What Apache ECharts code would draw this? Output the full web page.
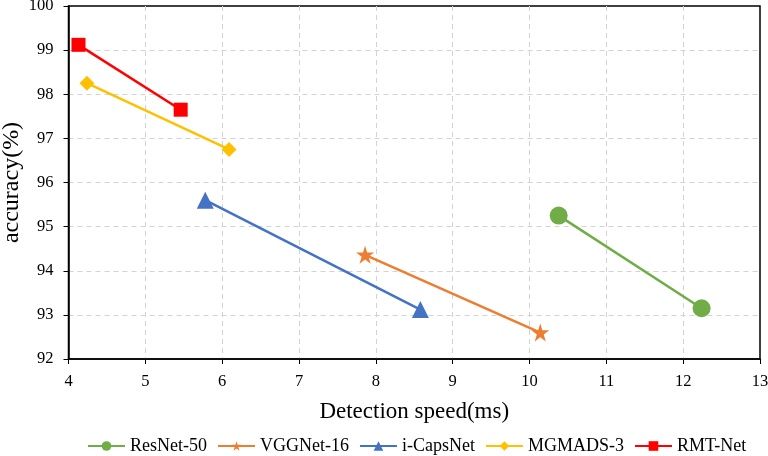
<!DOCTYPE html>
<html><head><meta charset="utf-8">
<script src="https://cdn.jsdelivr.net/npm/echarts@6/dist/echarts.min.js"></script>
<style>html,body{margin:0;padding:0;background:#fff}#c{width:768px;height:456px}</style>
</head><body><div id="c"></div>
<script>
const seriesNames = ['ResNet-50','VGGNet-16','i-CapsNet','MGMADS-3','RMT-Net'];
const resnet = [[10.38, 95.25],[12.24, 93.15]];
const vggnet = [[7.86, 94.36],[10.14, 92.6]];
const icaps = [[5.78, 95.6],[8.58, 93.12]];
const mgmads = [[4.24, 98.25],[6.09, 96.75]];
const rmt = [[4.13, 99.12],[5.46, 97.65]];
const xTicks = [4,5,6,7,8,9,10,11,12,13];
const yTicks = [92,93,94,95,96,97,98,99,100];

const colors = ['#70AD47','#ED7D31','#4472C4','#FFC000','#FF0000'];
const star = 'path://M50,0 L61.8,35.5 L100,35.5 L69.1,57.5 L80.9,95 L50,72 L19.1,95 L30.9,57.5 L0,35.5 L38.2,35.5 Z';
const symbols = ['circle', star, 'triangle', 'diamond', 'rect'];
const sizes = [18, 18, 17, 15, 14];
const datas = [resnet, vggnet, icaps, mgmads, rmt];
const font = '"Liberation Serif", "Times New Roman", serif';

const chart = echarts.init(document.getElementById('c'));
const split = {show: true, showMinLine: false, showMaxLine: false, lineStyle: {type: [5,4], color: '#d3d3d3', width: 1}};
chart.setOption({
  animation: false,
  textStyle: {fontFamily: font},
  grid: {left: 68.5, right: 8, top: 6, bottom: 97, show: true, borderColor: '#000', borderWidth: 1.5,
         containLabel: false, outerBoundsMode: 'none'},
  legend: {
    top: 432, left: 82, itemWidth: 37, itemHeight: 12, itemGap: 10,
    textStyle: {fontFamily: font, fontSize: 18, color: '#000'},
    data: seriesNames
  },
  xAxis: {
    type: 'value', min: xTicks[0], max: xTicks[xTicks.length-1], interval: 1,
    name: 'Detection speed(ms)', nameLocation: 'middle', nameGap: 41, nameMoveOverlap: false,
    nameTextStyle: {fontFamily: font, fontSize: 23, color: '#000'},
    axisLine: {show: true, lineStyle: {color: '#000', width: 1.5}},
    axisTick: {show: true, inside: false, length: 5, lineStyle: {color: '#000'}},
    axisLabel: {fontFamily: font, fontSize: 16.5, color: '#000', margin: 14},
    splitLine: split
  },
  yAxis: {
    type: 'value', min: yTicks[0], max: yTicks[yTicks.length-1], interval: 1,
    name: 'accuracy(%)', nameLocation: 'middle', nameGap: 45, nameMoveOverlap: false,
    nameTextStyle: {fontFamily: font, fontSize: 24, color: '#000'},
    axisLine: {show: true, lineStyle: {color: '#000', width: 1.5}},
    axisTick: {show: true, inside: false, length: 5, lineStyle: {color: '#000'}},
    axisLabel: {fontFamily: font, fontSize: 16.5, color: '#000', margin: 15},
    splitLine: split
  },
  series: seriesNames.map((n, i) => ({
    name: n, type: 'line', data: datas[i],
    symbol: symbols[i], symbolSize: sizes[i],
    itemStyle: {color: colors[i]},
    lineStyle: {color: colors[i], width: 2.5}
  }))
});
</script></body></html>
